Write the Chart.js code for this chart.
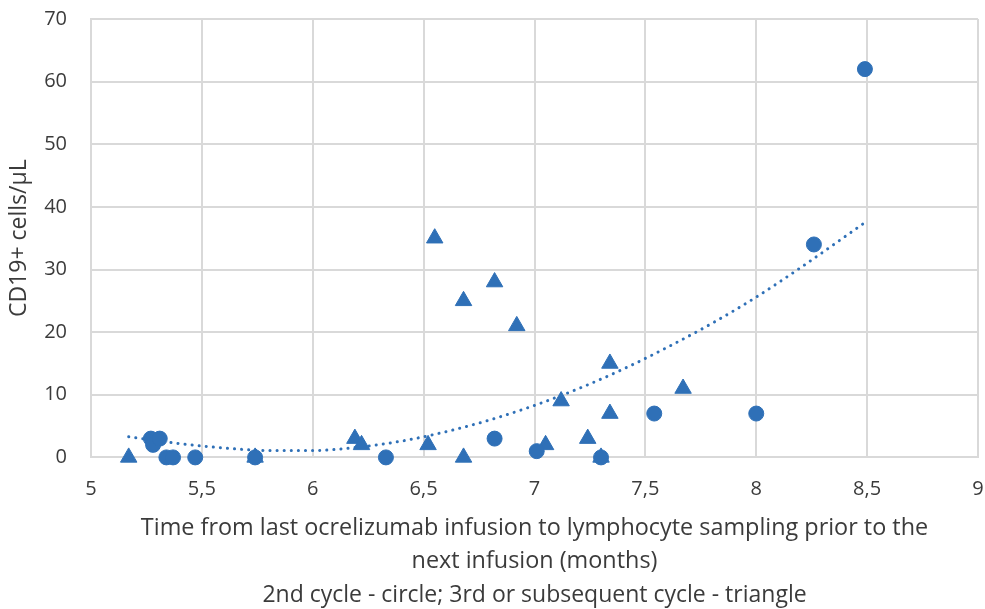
<!DOCTYPE html>
<html>
<head>
<meta charset="utf-8">
<script src="https://cdn.jsdelivr.net/npm/chart.js@4.4.1/dist/chart.umd.min.js"></script>
<style>
    html, body { margin: 0; padding: 0; background: #fff; }
    #cd19Chart { display: block; }
</style>
</head>
<body>
<canvas id="cd19Chart" width="985" height="609"></canvas>
<script>
// Data – 2nd cycle (circle)
const circleX = [5.27, 5.28, 5.31, 5.34, 5.37, 5.47, 5.74, 6.33, 6.82, 7.01, 7.30, 7.54, 8.00, 8.26, 8.49];
const circleY = [3, 2, 3, 0, 0, 0, 0, 0, 3, 1, 0, 7, 7, 34, 62];

// Data – 3rd or subsequent cycle (triangle)
const triX = [5.17, 5.74, 6.19, 6.22, 6.52, 6.55, 6.68, 6.68, 6.82, 6.92, 7.05, 7.12, 7.24, 7.30, 7.34, 7.34, 7.67];
const triY = [0, 0, 3, 2, 2, 35, 25, 0, 28, 21, 2, 9, 3, 0, 15, 7, 11];

// Trendline samples
const trendX = [5.17, 5.4, 5.6, 5.8, 6.0, 6.2, 6.4, 6.6, 6.8, 7.0, 7.2, 7.4, 7.6, 7.8, 8.0, 8.2, 8.49];
const trendY = [3.3, 2.2, 1.5, 1.1, 1.1, 1.6, 2.6, 4.1, 6.0, 8.3, 11.0, 14.1, 17.6, 21.4, 25.6, 30.3, 37.5];

const xTicks = [5, 5.5, 6, 6.5, 7, 7.5, 8, 8.5, 9];

const blue = '#2f70b7';
const textColor = '#3b3b3b';
const fontFamily = "'Open Sans', sans-serif";

function toPoints(xs, ys) {
    return xs.map((x, i) => ({ x: x, y: ys[i] }));
}

const ctx = document.getElementById('cd19Chart').getContext('2d');

new Chart(ctx, {
    type: 'scatter',
    data: {
        datasets: [
            {
                label: 'Trend',
                data: toPoints(trendX, trendY),
                showLine: true,
                pointRadius: 0,
                borderColor: blue,
                borderWidth: 3,
                borderDash: [0.1, 7],
                borderCapStyle: 'round',
                cubicInterpolationMode: 'monotone',
                order: 3
            },
            {
                label: '2nd cycle',
                data: toPoints(circleX, circleY),
                pointStyle: 'circle',
                pointRadius: 7.5,
                backgroundColor: blue,
                borderColor: blue,
                borderWidth: 1,
                clip: false,
                order: 1
            },
            {
                label: '3rd or subsequent cycle',
                data: toPoints(triX, triY),
                pointStyle: 'triangle',
                pointRadius: 9.5,
                backgroundColor: blue,
                borderColor: blue,
                borderWidth: 1,
                clip: false,
                order: 2
            }
        ]
    },
    options: {
        responsive: false,
        animation: false,
        layout: {
            autoPadding: false,
            padding: { top: 6, right: 0, left: 6, bottom: 0 }
        },
        plugins: {
            legend: { display: false },
            tooltip: { enabled: false },
            title: {
                display: true,
                position: 'bottom',
                fullSize: false,
                text: '2nd cycle - circle; 3rd or subsequent cycle - triangle',
                color: textColor,
                font: { family: fontFamily, size: 23, weight: 'normal', lineHeight: 1.2 },
                padding: { top: 3.5, bottom: 0 }
            }
        },
        scales: {
            x: {
                type: 'linear',
                min: 5,
                max: 9,
                afterBuildTicks: (axis) => {
                    axis.ticks = xTicks.map(v => ({ value: v }));
                },
                // feste Höhe, damit das Tick-Padding nicht doppelt zählt
                afterFit: (scale) => {
                    scale.height = 120.5;
                    scale.paddingLeft = 8;
                    scale.paddingRight = 7;
                },
                ticks: {
                    color: textColor,
                    font: { family: fontFamily, size: 20 },
                    padding: 20,
                    maxRotation: 0,
                    callback: (value) => String(value).replace('.', ',')
                },
                grid: {
                    color: '#d9d9d9',
                    lineWidth: 2,
                    drawTicks: false
                },
                border: { color: '#d9d9d9', width: 2 },
                title: {
                    display: true,
                    text: ['Time from last ocrelizumab infusion to lymphocyte sampling prior to the', 'next infusion (months)'],
                    color: textColor,
                    font: { family: fontFamily, size: 23.4, lineHeight: 1.41 },
                    padding: { top: 0, bottom: 0 }
                }
            },
            y: {
                type: 'linear',
                min: 0,
                max: 70,
                afterFit: (scale) => {
                    scale.width = 85;
                    scale.paddingTop = 19;
                    scale.paddingBottom = 12;
                    scale.paddingLeft = 0;
                    scale.paddingRight = 0;
                },
                ticks: {
                    stepSize: 10,
                    color: textColor,
                    font: { family: fontFamily, size: 20 },
                    padding: 24
                },
                grid: {
                    color: '#d9d9d9',
                    lineWidth: 2,
                    drawTicks: false
                },
                border: { color: '#d9d9d9', width: 2 },
                title: {
                    display: true,
                    text: 'CD19+ cells/µL',
                    color: textColor,
                    font: { family: fontFamily, size: 23, lineHeight: 1.2 },
                    padding: { top: 0, bottom: 0 }
                }
            }
        }
    }
});
</script>
</body>
</html>
